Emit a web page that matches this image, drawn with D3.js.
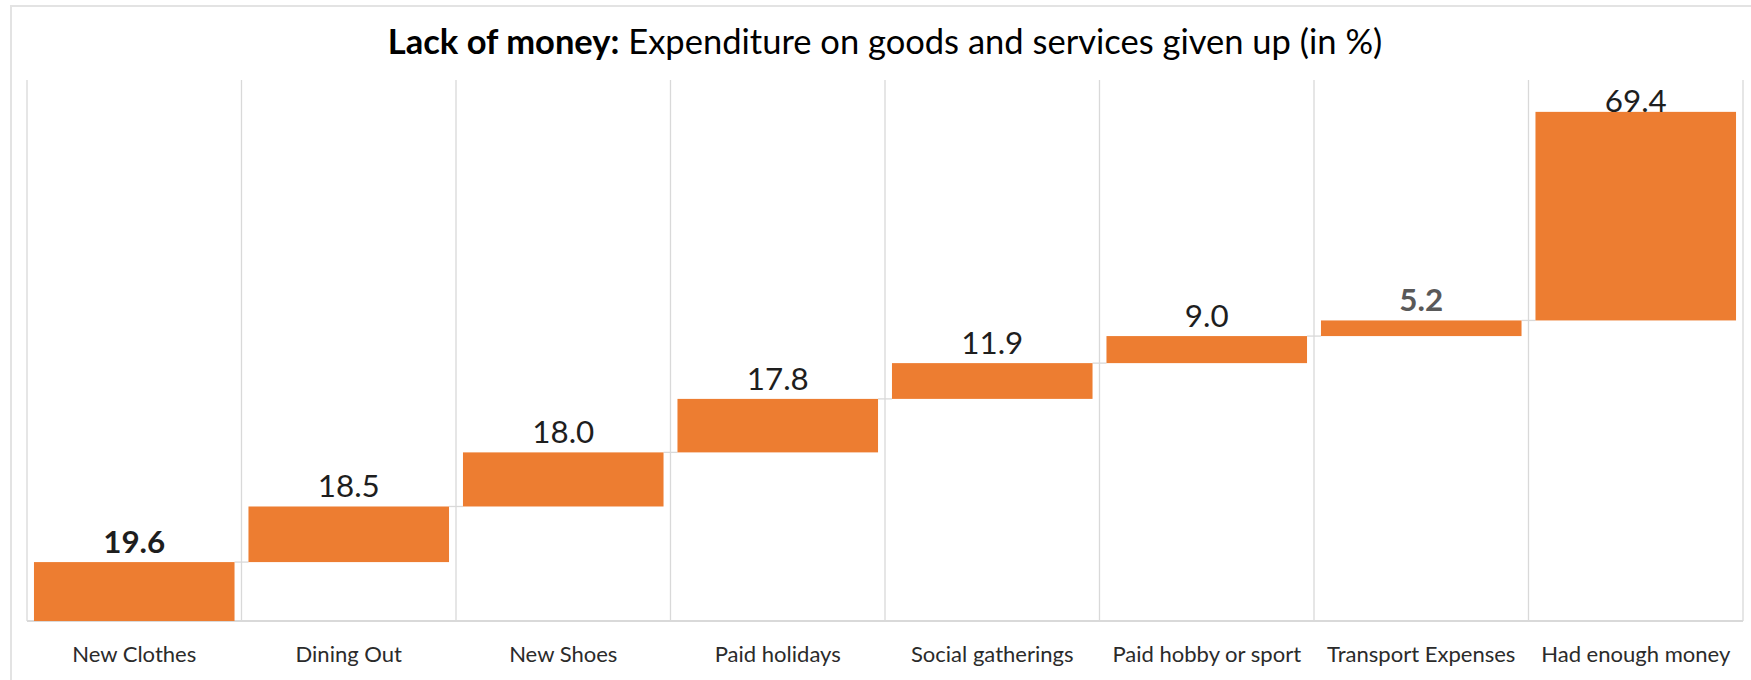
<!DOCTYPE html>
<html><head><meta charset="utf-8">
<script src="https://cdn.jsdelivr.net/npm/d3@7"></script>
<style>body{margin:0;background:#fff;} svg{display:block;}</style>
</head><body>
<svg id="chart" width="1751" height="680"></svg>
<script>
// ---- data ----
const categories = ["New Clothes","Dining Out","New Shoes","Paid holidays","Social gatherings","Paid hobby or sport","Transport Expenses","Had enough money"];
const values = [19.6, 18.5, 18.0, 17.8, 11.9, 9.0, 5.2, 69.4];
const valueLabels = ["19.6","18.5","18.0","17.8","11.9","9.0","5.2","69.4"];
const titleBold = "Lack of money:";
const titleRest = " Expenditure on goods and services given up (in %)";
const yMax = 180;

// ---- layout ----
const svg = d3.select("#chart");
const plotLeft = 27, plotRight = 1743, plotTop = 80, plotBottom = 621;
const x = d3.scaleBand().domain(categories).range([plotLeft, plotRight]).paddingInner(0.065).paddingOuter(0.0325);
const y = d3.scaleLinear().domain([0, yMax]).range([plotBottom, plotTop]);
const ends = Array.from(d3.cumsum(values));
const starts = ends.map((e, i) => e - values[i]);
const font = "Lato, 'Open Sans', sans-serif";
const grid = "#d9d9d9";

// frame
svg.append("rect").attr("x", 11).attr("y", 6).attr("width", 1800).attr("height", 800)
  .attr("fill", "none").attr("stroke", "#e3e3e3").attr("stroke-width", 2);

// vertical gridlines at band boundaries
const step = x.step();
const gx = d3.range(categories.length + 1).map(i => plotLeft + i * step);
svg.append("g").selectAll("line").data(gx).join("line")
  .attr("x1", d => d).attr("x2", d => d)
  .attr("y1", y(yMax)).attr("y2", y(0))
  .attr("stroke", grid).attr("stroke-width", 1.3);

// baseline
svg.append("line").attr("x1", plotLeft).attr("x2", plotRight).attr("y1", y(0)).attr("y2", y(0))
  .attr("stroke", grid).attr("stroke-width", 2.2);

// connectors
svg.append("g").selectAll("line").data(categories.slice(0, -1)).join("line")
  .attr("x1", (d) => x(d) + x.bandwidth())
  .attr("x2", (d, i) => x(categories[i + 1]))
  .attr("y1", (d, i) => y(ends[i])).attr("y2", (d, i) => y(ends[i]))
  .attr("stroke", grid).attr("stroke-width", 1.3);

// bars
svg.append("g").selectAll("rect").data(categories).join("rect")
  .attr("x", d => x(d)).attr("width", x.bandwidth())
  .attr("y", (d, i) => y(ends[i]))
  .attr("height", (d, i) => y(starts[i]) - y(ends[i]))
  .attr("fill", "#ED7D31");

// data labels
const dl = svg.append("g").selectAll("text").data(categories).join("text")
  .attr("x", d => x(d) + x.bandwidth() / 2)
  .attr("y", (d, i) => Math.max(y(ends[i]) - 9, y(yMax) + 32))
  .attr("text-anchor", "middle")
  .attr("font-family", font).attr("font-size", 30)
  .attr("font-weight", (d, i) => (i === 0 || i === 6) ? 700 : 400)
  .attr("fill", (d, i) => i === 6 ? "#595959" : "#1e1e1e")
  .text((d, i) => valueLabels[i]);
// fit data label size ("18.5" ≈ 62px wide)
{
  const n = dl.filter((d, i) => i === 1).node();
  const s = 30 * 62 / n.getBBox().width;
  dl.attr("font-size", s);
}

// category labels
const cl = svg.append("g").selectAll("text").data(categories).join("text")
  .attr("x", d => x(d) + x.bandwidth() / 2)
  .attr("y", 662)
  .attr("text-anchor", "middle")
  .attr("font-family", font).attr("font-size", 20)
  .attr("fill", "#2b2b2b")
  .text(d => d);
{
  const n = cl.filter((d, i) => i === 7).node();
  const s = 20 * 190 / n.getBBox().width;
  cl.attr("font-size", s);
}

// title
const t = svg.append("text").attr("x", (plotLeft + plotRight) / 2).attr("y", 54)
  .attr("text-anchor", "middle").attr("font-family", font).attr("font-size", 30).attr("fill", "#000");
t.append("tspan").attr("font-weight", 700).text(titleBold);
t.append("tspan").attr("font-weight", 400).text(titleRest);
{
  const s = 30 * 995 / t.node().getBBox().width;
  t.attr("font-size", s);
}
</script>
</body></html>
